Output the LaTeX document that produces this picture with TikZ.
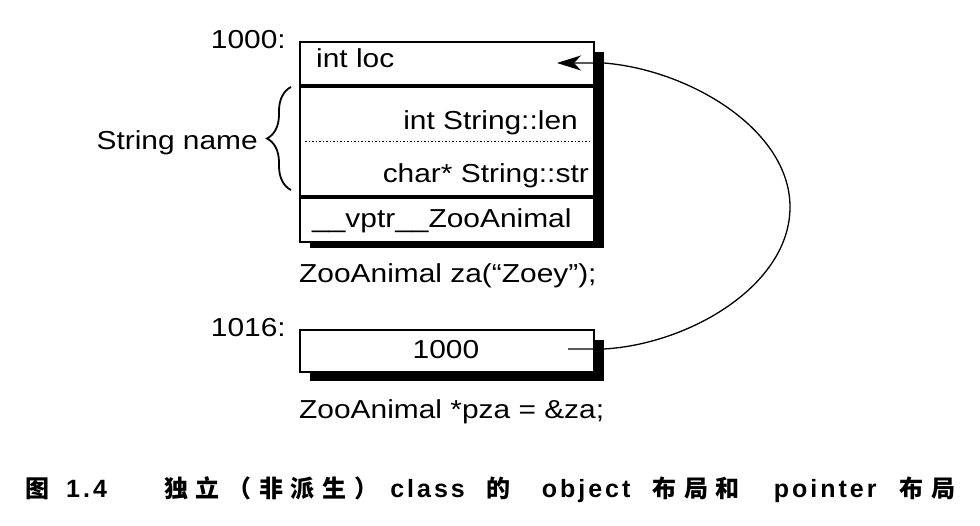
\documentclass[tikz,border=0pt]{standalone}
\usepackage{fontspec}
\setmainfont{Liberation Sans}[FakeStretch=1.15]
\newfontfamily\cjk{Noto Sans CJK SC}[LetterSpace=32]
\newfontfamily\capfont{Liberation Sans}[LetterSpace=12]
\usepackage{tikz}
\usetikzlibrary{positioning,arrows.meta,decorations.pathreplacing}
\newcommand\txtsize{\fontsize{26}{30}\selectfont}
\newcommand\capsize{\fontsize{24}{28}\selectfont}
\newcommand\latsize{\fontsize{25}{28}\selectfont}

\begin{document}
\begin{tikzpicture}[x=1pt,y=-1pt,
  every node/.style={inner sep=0pt,font=\txtsize},
  cell/.style={draw,line width=2pt,fill=white,minimum width=294pt,anchor=north west},
  shadow/.style={fill=black}]
\useasboundingbox (0,0) rectangle (980,526);

% the object za
\fill[shadow] (310,52) rectangle (604,248);
\node(loc)   [cell,minimum height=43pt] at (299,41)     {};
\node(name)  [cell,minimum height=109pt,below=0pt of loc]  {};
\node(vptr)  [cell,minimum height=44pt,below=0pt of name]  {};
\draw[line width=3pt] (loc.south west)--(loc.south east);
\draw[line width=3pt] (name.south west)--(name.south east);
\draw[dotted,line width=1.5pt,shorten <=6pt,shorten >=6pt] (name.west)--(name.east);

\node(locT)  [anchor=base west] at (316,68)   {int loc};
\node(lenT)  [anchor=base east] at (578,130)  {int String::len};
\node(strT)  [anchor=base east] at (589,183)  {char* String::str};
\node(vptrT) [anchor=base west] at (312,228)  {\_\_vptr\_\_ZooAnimal};
\node(addrA) [anchor=base east] at (286,49)   {1000:};
\node(nameT) [anchor=base east] at (258,150)  {String name};
\draw[decorate,decoration={brace,amplitude=24pt,aspect=0.5},line width=1.8pt] (291,190)--(291,87);
\node(za)    [anchor=base west] at (299,283)  {ZooAnimal za(“Zoey”);};

% the pointer pza
\fill[shadow] (310,340) rectangle (604,381);
\node(pza)   [cell,minimum height=42pt] at (299,329)    {};
\node(ptrT)  [anchor=base] at (446,359)       {1000};
\node(addrB) [anchor=base east] at (286,337)  {1016:};
\node(pzaT)  [anchor=base west] at (299,418)  {ZooAnimal *pza = \&za;};

\coordinate(tick) at (568,349);
\coordinate(tail) at (604,349);
\coordinate(bend) at (790,207);
\coordinate(head) at (604,63);
\coordinate(tip)  at (557,63);
\draw[line width=1.3pt,-{Stealth[length=24pt,width=15pt,inset=7pt]}]
  (tick)--(tail) .. controls (690,344) and (790,285) .. (bend)
  .. controls (790,130) and (690,70) .. (head)--(tip);

% caption
\node(fig)   [anchor=base west,font=\capsize\bfseries] at (25,497)
  {{\cjk 图}\hspace{17pt}{\latsize\capfont 1.4}};
\node(title) [anchor=base west,font=\capsize\bfseries] at (164,497)
  {{\cjk 独立（非派生）}\hspace{12pt}{\latsize\capfont class}\hspace{22pt}{\cjk 的}\hspace{31pt}{\latsize\capfont object}\hspace{22pt}{\cjk 布局和}\hspace{34pt}{\latsize\capfont pointer}\hspace{23pt}{\cjk 布局}};
\end{tikzpicture}
\end{document}
